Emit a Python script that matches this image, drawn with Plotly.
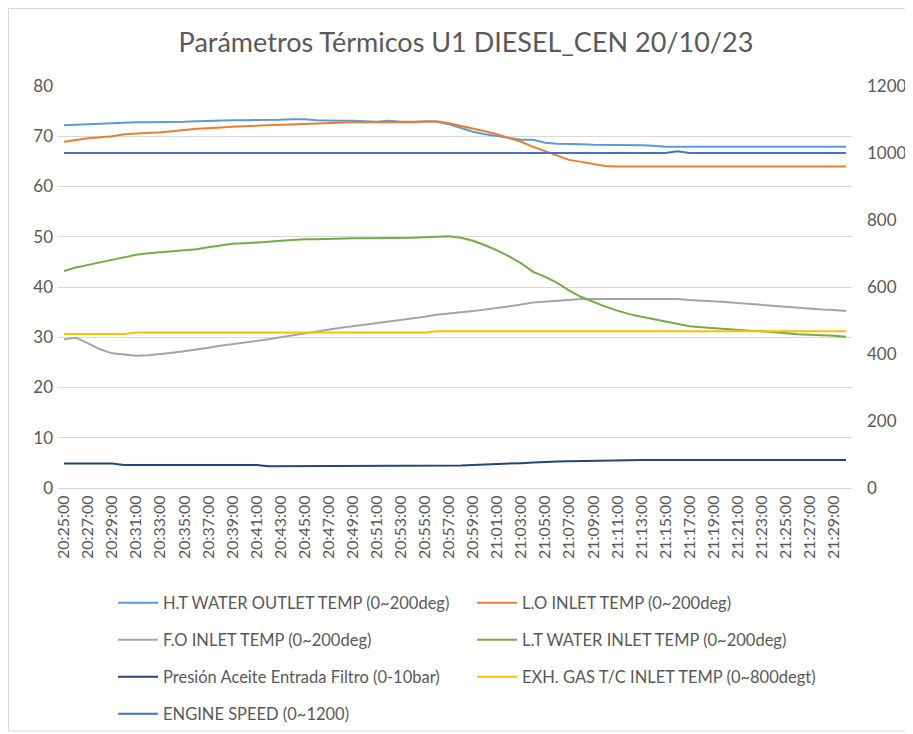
import plotly.graph_objects as go

times = [f"{20 + (25 + m) // 60}:{(25 + m) % 60:02d}:00" for m in range(66)]

ht_water_outlet = [72.2, 72.3, 72.4, 72.5, 72.7, 72.7, 72.8, 72.8, 72.8, 72.8,
                   72.9, 73.0, 73.1, 73.1, 73.2, 73.2, 73.2, 73.2, 73.3, 73.4,
                   73.4, 73.2, 73.1, 73.1, 73.1, 73.0, 72.9, 73.1, 72.9, 72.9,
                   72.9, 72.9, 72.4, 71.6, 70.9, 70.4, 70.0, 69.6, 69.3, 69.3,
                   68.7, 68.5, 68.5, 68.4, 68.3, 68.3, 68.3, 68.3, 68.2, 68.1,
                   67.9, 67.9, 67.9, 67.9, 67.9, 67.9, 67.9, 67.9, 67.9, 67.9,
                   67.9, 67.9, 67.9, 67.9, 67.9, 67.9]

lo_inlet = [68.9, 69.3, 69.6, 69.8, 70.0, 70.4, 70.5, 70.6, 70.8, 71.0,
            71.3, 71.5, 71.6, 71.8, 71.9, 72.0, 72.1, 72.2, 72.3, 72.4,
            72.5, 72.6, 72.7, 72.7, 72.8, 72.8, 72.8, 72.8, 72.8, 72.8,
            73.0, 73.0, 72.6, 72.1, 71.6, 71.0, 70.4, 69.7, 68.9, 67.9,
            67.0, 66.1, 65.3, 64.9, 64.5, 64.1, 64.0, 64.0, 64.0, 64.0,
            64.0, 64.0, 64.0, 64.0, 64.0, 64.0, 64.0, 64.0, 64.0, 64.0,
            64.0, 64.0, 64.0, 64.0, 64.0, 64.0]

fo_inlet = [29.6, 29.9, 28.8, 27.6, 26.8, 26.5, 26.3, 26.4, 26.6, 26.9,
            27.2, 27.5, 27.9, 28.3, 28.6, 29.0, 29.3, 29.6, 30.0, 30.4,
            30.8, 31.2, 31.6, 31.9, 32.2, 32.5, 32.8, 33.1, 33.4, 33.8,
            34.1, 34.5, 34.7, 34.9, 35.2, 35.5, 35.8, 36.1, 36.5, 36.9,
            37.1, 37.3, 37.5, 37.6, 37.6, 37.6, 37.6, 37.6, 37.6, 37.6,
            37.6, 37.6, 37.4, 37.3, 37.2, 37.0, 36.8, 36.6, 36.4, 36.2,
            36.0, 35.8, 35.6, 35.5, 35.4, 35.2]

lt_water_inlet = [43.2, 43.9, 44.4, 44.9, 45.3, 45.9, 46.4, 46.7, 46.9, 47.1,
                  47.3, 47.5, 47.9, 48.3, 48.6, 48.7, 48.8, 49.0, 49.2, 49.4,
                  49.5, 49.5, 49.6, 49.7, 49.7, 49.7, 49.7, 49.7, 49.7, 49.8,
                  49.9, 50.0, 50.1, 49.8, 49.2, 48.3, 47.3, 46.1, 44.7, 43.0,
                  42.0, 40.8, 39.3, 38.0, 37.0, 36.1, 35.3, 34.6, 34.1, 33.6,
                  33.1, 32.6, 32.2, 32.0, 31.8, 31.6, 31.4, 31.3, 31.2, 31.0,
                  30.7, 30.6, 30.5, 30.45, 30.3, 30.1]

presion_aceite = [4.87, 4.87, 4.87, 4.87, 4.87, 4.6, 4.6, 4.6, 4.6, 4.6,
                  4.6, 4.6, 4.6, 4.6, 4.6, 4.6, 4.6, 4.35, 4.35, 4.35,
                  4.35, 4.35, 4.35, 4.35, 4.35, 4.35, 4.35, 4.35, 4.35, 4.35,
                  4.35, 4.35, 4.35, 4.5, 4.6, 4.65, 4.7, 4.9, 4.95, 5.05,
                  5.2, 5.25, 5.3, 5.35, 5.5, 5.55, 5.55, 5.55, 5.55, 5.55,
                  5.55, 5.55, 5.55, 5.55, 5.55, 5.55, 5.55, 5.55, 5.55, 5.55,
                  5.55, 5.55, 5.55, 5.55, 5.55, 5.55]

exh_gas = [460] * 6 + [464] * 25 + [468] * 35

engine_speed = [1000] * 51 + [1005] + [1000] * 14

series = [
    ("H.T WATER OUTLET TEMP (0~200deg)", ht_water_outlet, "#5B9BD5", "y", "legend"),
    ("L.O INLET TEMP (0~200deg)", lo_inlet, "#ED7D31", "y", "legend"),
    ("F.O INLET TEMP (0~200deg)", fo_inlet, "#A5A5A5", "y", "legend2"),
    ("L.T WATER INLET TEMP (0~200deg)", lt_water_inlet, "#70AD47", "y", "legend2"),
    ("Presión Aceite Entrada Filtro (0-10bar)", presion_aceite, "#264478", "y", "legend3"),
    ("EXH. GAS T/C INLET TEMP (0~800degt)", exh_gas, "#FFC000", "y2", "legend3"),
    ("ENGINE SPEED (0~1200)", engine_speed, "#4472C4", "y2", "legend4"),
]

FONT = "Lato, Open Sans, sans-serif"
GREY = "#595959"

fig = go.Figure()
for name, vals, color, yax, leg in series:
    fig.add_trace(go.Scatter(x=times, y=vals, name=name, mode="lines",
                             line=dict(color=color, width=2),
                             yaxis=yax, legend=leg))

OFF = 8  # page body margin
W, H = 913 - OFF, 734 - OFF
PL, PR, PT, PB = 58, 852, 86, 488   # plot area in page coordinates
L, T = PL - OFF, PT - OFF
R, B = W - (PR - OFF), H - (PB - OFF)
pw, ph = PR - PL, PB - PT

def px(x):
    return (x - PL) / pw

def py(y):
    return (PB - y) / ph

legend_common = dict(orientation="h", xanchor="left", yanchor="middle",
                     font=dict(family=FONT, size=16.5, color=GREY),
                     entrywidth=304, entrywidthmode="pixels",
                     bgcolor="rgba(0,0,0,0)", itemwidth=40)

fig.update_layout(
    width=W, height=H,
    margin=dict(l=L, r=R, t=T, b=B, autoexpand=False),
    paper_bgcolor="white", plot_bgcolor="white",
    font=dict(family=FONT, color=GREY),
    title=dict(text="Parámetros Térmicos U1 DIESEL_CEN 20/10/23",
               x=(466 - OFF) / W, xanchor="center", y=1 - (43 - OFF) / H,
               yanchor="middle",
               font=dict(family=FONT, size=27, color=GREY)),
    xaxis=dict(type="category", range=[-0.5, 65.5], tickmode="array",
               tickvals=times[::2], ticktext=times[::2], tickangle=-90,
               showgrid=False, showline=True, linecolor="#D9D9D9", linewidth=1,
               ticks="", tickfont=dict(family=FONT, size=16, color=GREY),
               automargin=False, zeroline=False),
    yaxis=dict(range=[0, 80], dtick=10, showgrid=True, gridcolor="#D9D9D9",
               gridwidth=1, showline=False, zeroline=False, ticks="",
               ticklabelstandoff=4,
               tickfont=dict(family=FONT, size=17, color=GREY), automargin=False),
    yaxis2=dict(range=[0, 1200], dtick=200, overlaying="y", side="right",
                showgrid=False, showline=False, zeroline=False, ticks="",
                ticklabelstandoff=14,
                tickfont=dict(family=FONT, size=17, color=GREY), automargin=False),
    legend=dict(x=px(113), y=py(603), **legend_common),
    legend2=dict(x=px(113), y=py(640), **legend_common),
    legend3=dict(x=px(113), y=py(677), **legend_common),
    legend4=dict(x=px(113), y=py(714), **legend_common),
    shapes=[dict(type="rect", xref="paper", yref="paper",
                 x0=px(OFF + 0.5), x1=px(910), y0=py(731), y1=py(OFF + 0.5),
                 line=dict(color="#D9D9D9", width=1), layer="below")],
)

fig.write_html("out.html")
